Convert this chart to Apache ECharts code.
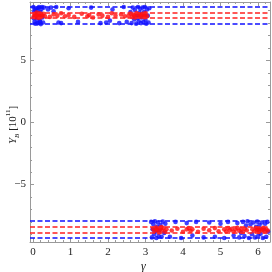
<!DOCTYPE html>
<html><head><meta charset="utf-8">
<script src="https://cdn.jsdelivr.net/npm/echarts@6/dist/echarts.min.js"></script>
<style>html,body{margin:0;padding:0;background:#fff}#c{width:272px;height:272px}</style>
</head><body><div id="c"></div>
<script>
var xTicks = [0, 1, 2, 3, 4, 5, 6];
var yTicks = [-5, 0, 5];
var upperLevelsBlue = [7.94, 9.29];
var upperLevelsRed = [8.41, 8.85];
var lowerLevelsBlue = [-7.94, -9.29];
var lowerLevelsRed = [-8.41, -8.85];

var upperBlue = [[0.01,9.3],[0.03,8.95],[0.04,8.1],[0.06,7.95],[0.07,8.6],[0.09,9.2],[0.1,8.35],[0.12,9.05],[0.13,8.0],[0.15,8.75],[0.16,9.3],[0.18,8.2],[0.2,8.9],[0.21,7.92],[0.23,9.15],[0.25,8.45],[0.27,8.05],[0.29,9.25],[0.02,8.4],[0.08,8.85],[0.14,9.22],[0.19,8.1],[0.05,9.1],[0.11,7.98],[0.24,9.3],
  [0.4,9.1],[0.48,9.25],[0.55,8.95],[0.62,9.3],[0.68,8.05],[0.75,8.0],[0.95,9.2],[1.2,8.1],[1.55,9.25],[1.8,8.0],[1.95,8.05],[2.05,8.2],[2.12,9.1],[2.3,8.0],[2.42,9.3],[2.5,8.1],
  [2.6,8.9],[2.63,8.0],[2.66,9.25],[2.7,8.3],[2.72,9.05],[2.75,7.95],[2.77,8.6],[2.8,9.3],[2.82,8.15],[2.84,8.85],[2.86,9.15],[2.88,8.0],[2.9,8.45],[2.92,9.25],[2.94,8.1],[2.96,8.9],[2.98,9.3],[3.0,8.25],[3.02,7.95],[3.04,9.1],[3.06,8.6],[3.08,8.05],[3.1,9.2],[2.79,8.4],[2.97,8.7]];
var upperRed = [[0.02,8.55],[0.04,8.75],[0.06,8.45],[0.08,8.65],[0.1,8.85],[0.12,8.5],[0.14,8.7],[0.16,8.6],[0.18,8.8],[0.2,8.48],[0.22,8.68],[0.25,8.58],[0.28,8.75],[0.32,8.55],[0.05,8.62],[0.15,8.42],
  [0.45,8.5],[0.55,8.7],[0.65,8.6],[0.75,8.8],[0.85,8.55],[0.95,8.65],[1.1,8.5],[1.3,8.75],[1.45,8.55],[1.5,8.65],[1.6,8.45],[1.75,8.7],[1.85,8.6],[2.0,8.5],[2.1,8.8],[2.2,8.6],[2.35,8.7],[2.45,8.55],
  [2.55,8.6],[2.6,8.78],[2.64,8.5],[2.68,8.68],[2.72,8.45],[2.76,8.82],[2.8,8.58],[2.84,8.7],[2.88,8.5],[2.92,8.75],[2.96,8.6],[3.0,8.82],[3.04,8.55],[2.7,8.6],[2.86,8.62],[2.98,8.48]];
var lowerBlue = [[3.15,-8.0],[3.17,-9.25],[3.19,-8.6],[3.21,-8.2],[3.23,-9.0],[3.25,-7.95],[3.27,-8.8],[3.29,-9.3],[3.31,-8.4],[3.33,-8.05],[3.35,-9.15],[3.37,-8.7],[3.4,-8.25],[3.43,-9.2],[3.46,-7.98],[3.5,-8.9],[3.53,-8.15],
  [3.65,-9.2],[3.8,-8.0],[3.95,-9.3],[4.1,-8.1],[4.25,-9.1],[4.35,-8.0],[4.55,-9.25],[4.7,-8.05],[4.85,-9.2],[5.0,-8.15],[5.1,-9.3],[5.2,-8.0],[5.35,-9.1],
  [5.45,-8.1],[5.5,-9.25],[5.55,-8.9],[5.6,-8.0],[5.64,-9.15],[5.68,-8.3],[5.72,-7.95],[5.76,-9.3],[5.8,-8.2],[5.84,-9.0],[5.88,-8.05],[5.92,-9.25],[5.95,-8.4],[5.98,-7.98],[6.01,-9.1],[6.04,-8.25],[6.07,-8.95],[6.1,-8.05],[6.13,-9.3],[6.16,-8.6],[6.19,-8.15],[6.22,-9.2],[6.25,-8.0],[6.27,-8.8],[6.03,-8.6]];
var lowerRed = [[3.2,-8.55],[3.24,-8.75],[3.28,-8.45],[3.32,-8.65],[3.36,-8.85],[3.4,-8.55],[3.44,-8.7],[3.48,-8.5],[3.52,-8.8],[3.56,-8.6],[3.3,-8.6],[3.42,-8.42],
  [3.7,-8.7],[3.85,-8.55],[4.0,-8.8],[4.1,-8.6],[4.15,-8.5],[4.2,-8.72],[4.25,-8.6],[4.4,-8.8],[4.55,-8.55],[4.7,-8.68],[4.85,-8.5],[4.95,-8.75],
  [5.1,-8.6],[5.15,-8.78],[5.2,-8.5],[5.25,-8.68],[5.3,-8.55],[5.35,-8.8],[5.4,-8.62],[5.45,-8.48],[5.5,-8.72],[5.55,-8.58],[5.6,-8.8],[5.65,-8.55],[5.7,-8.68],
  [5.85,-8.6],[5.9,-8.75],[5.94,-8.5],[5.98,-8.68],[6.02,-8.82],[6.06,-8.55],[6.1,-8.7],[6.14,-8.48],[6.18,-8.78],[6.22,-8.6],[6.26,-8.7],[6.0,-8.6],[6.12,-8.62]];

var X_MIN = -0.08, X_MAX = 6.32, Y_MIN = -9.62, Y_MAX = 9.7;
var xMinor = []; for (var i = 0; i <= 31; i++) xMinor.push(+(i * 0.2).toFixed(2));
var yMinor = []; for (var j = -9; j <= 9; j++) yMinor.push(j);

var FRAME = '#9a9a9a';
var FONT = 'Liberation Serif';

function xAx(pos, vals, len, labels, line) {
  return {type:'value', min:X_MIN, max:X_MAX, position:pos,
    axisLine:{show:line, onZero:false, lineStyle:{color:FRAME, width:1}},
    axisTick:{show:true, inside:true, length:len, customValues:vals, lineStyle:{color:FRAME}},
    axisLabel:{show:labels, customValues:vals, color:'#222', fontFamily:FONT, fontSize:11, margin:5},
    splitLine:{show:false}};
}
function yAx(pos, vals, len, labels, line) {
  return {type:'value', min:Y_MIN, max:Y_MAX, position:pos,
    axisLine:{show:line, onZero:false, lineStyle:{color:FRAME, width:1}},
    axisTick:{show:true, inside:true, length:len, customValues:vals, lineStyle:{color:FRAME}},
    axisLabel:{show:labels, customValues:vals, color:'#222', fontFamily:FONT, fontSize:11, margin:4,
      formatter:function(v){return v<0?'\u2212'+(-v):String(v);}},
    splitLine:{show:false}};
}
var xAxes = [xAx('bottom', xTicks, 4, true, true), xAx('bottom', xMinor, 2, false, false),
             xAx('top', xTicks, 4, false, true), xAx('top', xMinor, 2, false, false)];
var yAxes = [yAx('left', yTicks, 4, true, true), yAx('left', yMinor, 2, false, false),
             yAx('right', yTicks, 4, false, true), yAx('right', yMinor, 2, false, false)];

function pts(data, color) {
  return {type:'scatter', data:data, symbol:'circle', symbolSize:4.6, xAxisIndex:0, yAxisIndex:0,
    itemStyle:{color:color}, silent:true, animation:false, z:2};
}
function lines(levels, color) {
  return {type:'scatter', data:[], xAxisIndex:0, yAxisIndex:0, z:5, animation:false,
    markLine:{silent:true, symbol:'none', animation:false, label:{show:false},
      lineStyle:{color:color, width:1.7, type:[5,2.5]},
      data:levels.map(function(v){return {yAxis:v};})}};
}

var chart = echarts.init(document.getElementById('c'), null, {renderer:'canvas'});
chart.setOption({
  backgroundColor:'#fff', animation:false,
  grid:{left:30, right:2, top:2, bottom:30, containLabel:false},
  xAxis: xAxes, yAxis: yAxes,
  series:[pts(upperBlue,'#1010ff'), pts(lowerBlue,'#1010ff'), pts(upperRed,'#ff1010'), pts(lowerRed,'#ff1010'),
          lines(upperLevelsBlue,'#1010ff'), lines(lowerLevelsBlue,'#1010ff'),
          lines(upperLevelsRed,'#ff2020'), lines(lowerLevelsRed,'#ff2020')],
  graphic:[
    {type:'text', left:141, top:261, style:{text:'\u03b3', font:'italic 12px "Liberation Serif"', fill:'#222'}},
    {type:'text', x:5, y:144, rotation:Math.PI/2,
      style:{text:'{i|Y}{s|B} [10{p|11}]', font:'11px "Liberation Serif"', fill:'#222',
        rich:{i:{fontStyle:'italic', fontSize:11, fontFamily:FONT, fill:'#222'},
              s:{fontStyle:'italic', fontSize:7, fontFamily:FONT, verticalAlign:'bottom', lineHeight:16, fill:'#222'},
              p:{fontSize:7, fontFamily:FONT, verticalAlign:'top', lineHeight:16, fill:'#222'}}}}
  ]
});
</script></body></html>
